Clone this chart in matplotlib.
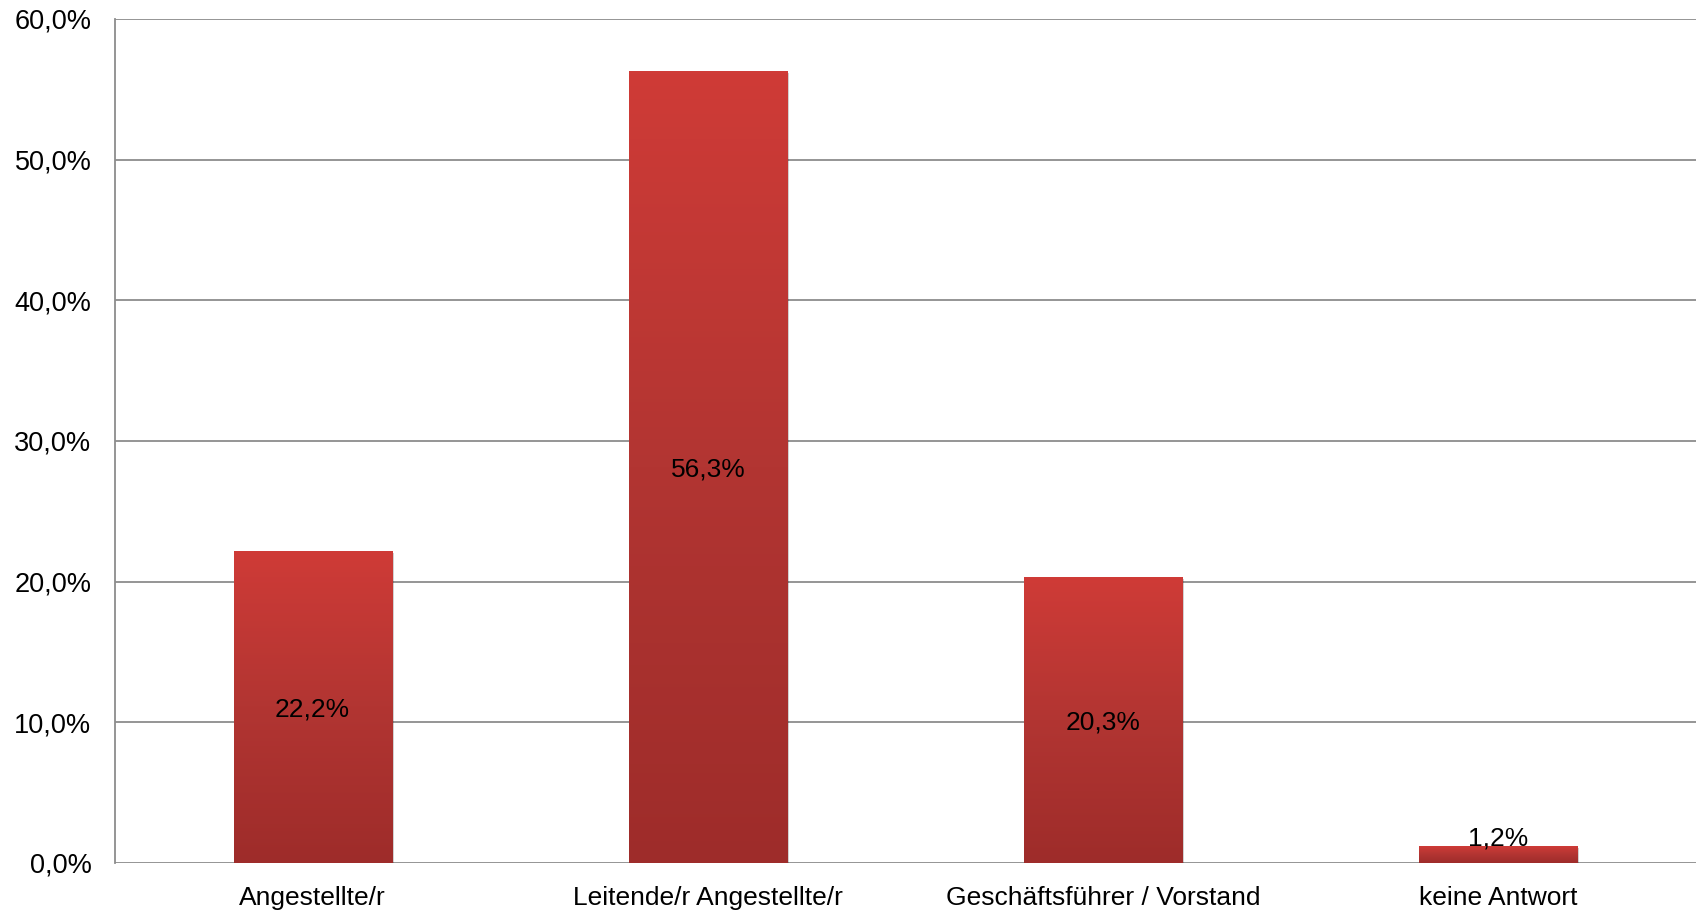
import numpy as np
import matplotlib.pyplot as plt
from matplotlib.colors import LinearSegmentedColormap
from matplotlib.patches import Rectangle
import matplotlib.transforms as mtransforms

plt.rcParams['font.family'] = ['Liberation Sans', 'DejaVu Sans']

categories = ['Angestellte/r', 'Leitende/r Angestellte/r',
              'Geschäftsführer / Vorstand', 'keine Antwort']
values = [22.2, 56.3, 20.3, 1.2]
yticks = [0, 10, 20, 30, 40, 50, 60]

# bar gradient: dark at bottom, light at top
grad = LinearSegmentedColormap.from_list('bar', ['#9e2c2a', '#b23532', '#cf3b37'])

fig = plt.figure(figsize=(16.96, 9.11), dpi=100)
ax = fig.add_axes([115 / 1696, 1 - 863 / 911, 1 - 115 / 1696, (863 - 19) / 911])

width = 0.4
x = np.arange(len(categories))

bars = ax.bar(x, values, width=width, color='none', zorder=3)
shadow_off = mtransforms.offset_copy(ax.transData, fig=fig, x=2, y=-2, units='dots')
gradient = np.linspace(0, 1, 256).reshape(-1, 1)
for b, v in zip(bars, values):
    x0 = b.get_x()
    sh = Rectangle((x0, 0), width, v, transform=shadow_off,
                   facecolor='#000000', alpha=0.18, zorder=2, linewidth=0)
    ax.add_patch(sh)
    im = ax.imshow(gradient, cmap=grad, origin='lower', aspect='auto',
                   extent=(x0, x0 + width, 0, v), zorder=3)
    im.set_clip_path(b)
    ax.text(b.get_x() + width / 2, max(v / 2, 1.95),
            ('%.1f%%' % v).replace('.', ','),
            ha='center', va='center_baseline', fontsize=19, color='black', zorder=5)

ax.set_xlim(-0.5, len(categories) - 0.5)
ax.set_ylim(0, 60)
ax.set_xticks(x)
ax.set_xticklabels(categories, fontsize=19)
ax.set_yticks(yticks)
ax.set_yticklabels([('%.1f%%' % t).replace('.', ',') for t in yticks], fontsize=19.5)
ax.tick_params(axis='both', length=0)
ax.tick_params(axis='y', pad=17)
ax.tick_params(axis='x', pad=16.5)

ax.yaxis.grid(True, color='#8c8c8c', linewidth=1.3, zorder=0)
ax.set_axisbelow(True)
for s in ['top', 'right', 'bottom']:
    ax.spines[s].set_visible(False)
ax.spines['left'].set_color('#8c8c8c')
ax.spines['left'].set_linewidth(1.3)

fig.savefig('out.png', dpi=100)
